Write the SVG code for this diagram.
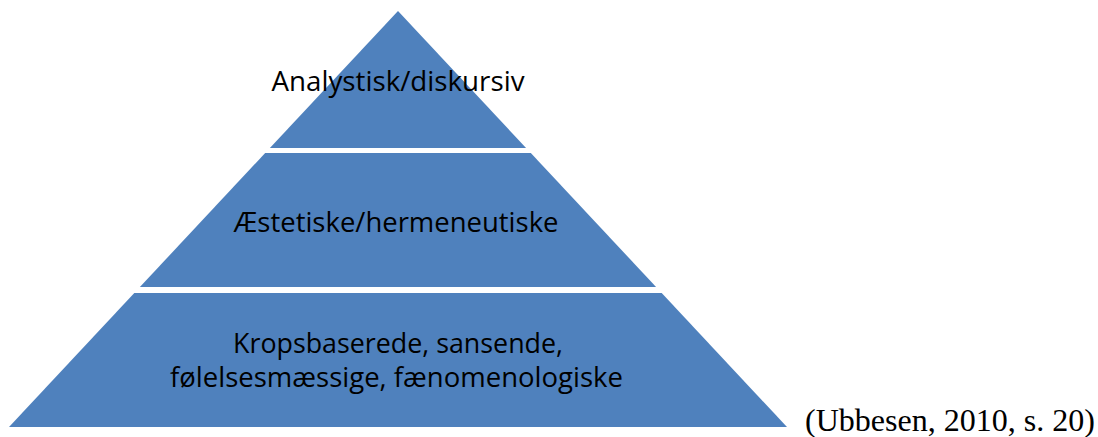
<svg xmlns="http://www.w3.org/2000/svg" width="1098" height="437" viewBox="0 0 1098 437">
<style>
.tier{fill:#4F81BD;}
.lbl{font-family:"Open Sans","Noto Sans","Liberation Sans",sans-serif;font-size:27px;fill:#000;text-anchor:middle;}
.cite{font-family:"Liberation Serif","Times New Roman",serif;font-size:32px;fill:#000;}
</style>
<rect width="1098" height="437" fill="#fff"/>
<g id="tier-top">
<polygon class="tier" points="398,11 526.1,148 269.9,148"/>
<text class="lbl" x="398" y="91" textLength="253" lengthAdjust="spacingAndGlyphs">Analystisk/diskursiv</text>
</g>
<g id="tier-middle">
<polygon class="tier" points="265.2,153 530.8,153 656.1,287 139.9,287"/>
<text class="lbl" x="396" y="232" textLength="325" lengthAdjust="spacingAndGlyphs">Æstetiske/hermeneutiske</text>
</g>
<g id="tier-bottom">
<polygon class="tier" points="134.3,293 661.7,293 787,427 9,427"/>
<text class="lbl" x="398" y="353" textLength="330" lengthAdjust="spacingAndGlyphs">Kropsbaserede, sansende,</text>
<text class="lbl" x="396.5" y="387" textLength="453" lengthAdjust="spacingAndGlyphs">følelsesmæssige, fænomenologiske</text>
</g>
<g id="connectors"></g>
<text class="cite" x="805" y="431" textLength="290" lengthAdjust="spacingAndGlyphs">(Ubbesen, 2010, s. 20)</text>
</svg>
